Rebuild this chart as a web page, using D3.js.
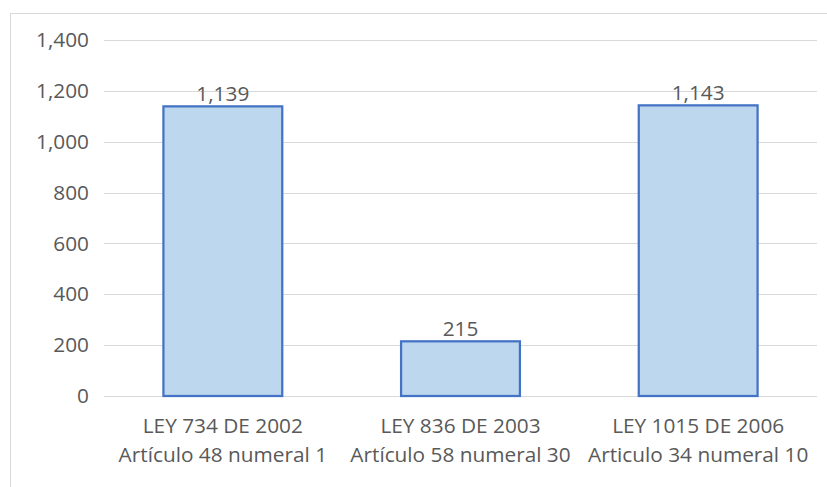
<!DOCTYPE html>
<html>
<head>
<meta charset="utf-8">
<script src="https://cdn.jsdelivr.net/npm/d3@7"></script>
<style>
  html, body { margin: 0; padding: 0; background: #fff; }
  svg { display: block; }
  text { font-family: "Open Sans", "Liberation Sans", Arial, sans-serif; fill: #595959; }
</style>
</head>
<body>
<svg id="chart" width="827" height="487"></svg>
<script>
const categoriesLine1 = ["LEY 734 DE 2002", "LEY 836 DE 2003", "LEY 1015 DE 2006"];
const categoriesLine2 = ["Artículo 48 numeral 1", "Artículo 58 numeral 30", "Articulo 34 numeral 10"];
const values = [1139, 215, 1143];
const yTicks = [0, 200, 400, 600, 800, 1000, 1200, 1400];

const FONT = "'Open Sans', 'Liberation Sans', Arial, sans-serif";
const FS = 20.8;

const svg = d3.select("#chart");
const W = 827, H = 487;
const margin = { left: 104, right: 10, top: 40, bottom: 91 };
const plotW = W - margin.left - margin.right;
const plotH = H - margin.top - margin.bottom;

// outer chart border (top and left visible)
svg.append("rect")
  .attr("x", 10.5).attr("y", 13.5)
  .attr("width", 830).attr("height", 490)
  .attr("fill", "#fff").attr("stroke", "#d9d9d9").attr("stroke-width", 1);

const x = d3.scaleBand()
  .domain(d3.range(values.length))
  .range([margin.left, margin.left + plotW])
  .paddingInner(0.5).paddingOuter(0.25);

const y = d3.scaleLinear()
  .domain([0, 1400])
  .range([margin.top + plotH, margin.top]);

// gridlines
svg.append("g")
  .selectAll("line")
  .data(yTicks)
  .join("line")
  .attr("x1", margin.left).attr("x2", margin.left + plotW)
  .attr("y1", d => Math.round(y(d)) + 0.5).attr("y2", d => Math.round(y(d)) + 0.5)
  .attr("stroke", "#d9d9d9").attr("stroke-width", 1);

// y axis labels
const yAxis = d3.axisLeft(y).tickValues(yTicks).tickFormat(d3.format(",")).tickSize(0).tickPadding(15);
const gy = svg.append("g").attr("transform", `translate(${margin.left},0)`).call(yAxis);
gy.select(".domain").remove();
gy.selectAll("text").attr("font-size", FS).style("fill", "#595959")
  .attr("font-family", FONT);

// bars
svg.append("g")
  .selectAll("rect")
  .data(values)
  .join("rect")
  .attr("x", (d, i) => x(i))
  .attr("y", d => y(d))
  .attr("width", x.bandwidth())
  .attr("height", d => y(0) - y(d))
  .attr("fill", "#bdd7ee")
  .attr("stroke", "#4472c4")
  .attr("stroke-width", 2.25);

// value labels
svg.append("g")
  .selectAll("text")
  .data(values)
  .join("text")
  .attr("x", (d, i) => x(i) + x.bandwidth() / 2)
  .attr("y", d => y(d) - 5)
  .attr("text-anchor", "middle")
  .attr("font-size", FS)
  .text(d => d3.format(",")(d));

// category labels
const gx = svg.append("g");
categoriesLine1.forEach((c, i) => {
  const cx = x(i) + x.bandwidth() / 2;
  gx.append("text").attr("x", cx).attr("y", y(0) + 37)
    .attr("text-anchor", "middle").attr("font-size", FS).text(c);
  gx.append("text").attr("x", cx).attr("y", y(0) + 66)
    .attr("text-anchor", "middle").attr("font-size", FS).text(categoriesLine2[i]);
});
</script>
</body>
</html>
